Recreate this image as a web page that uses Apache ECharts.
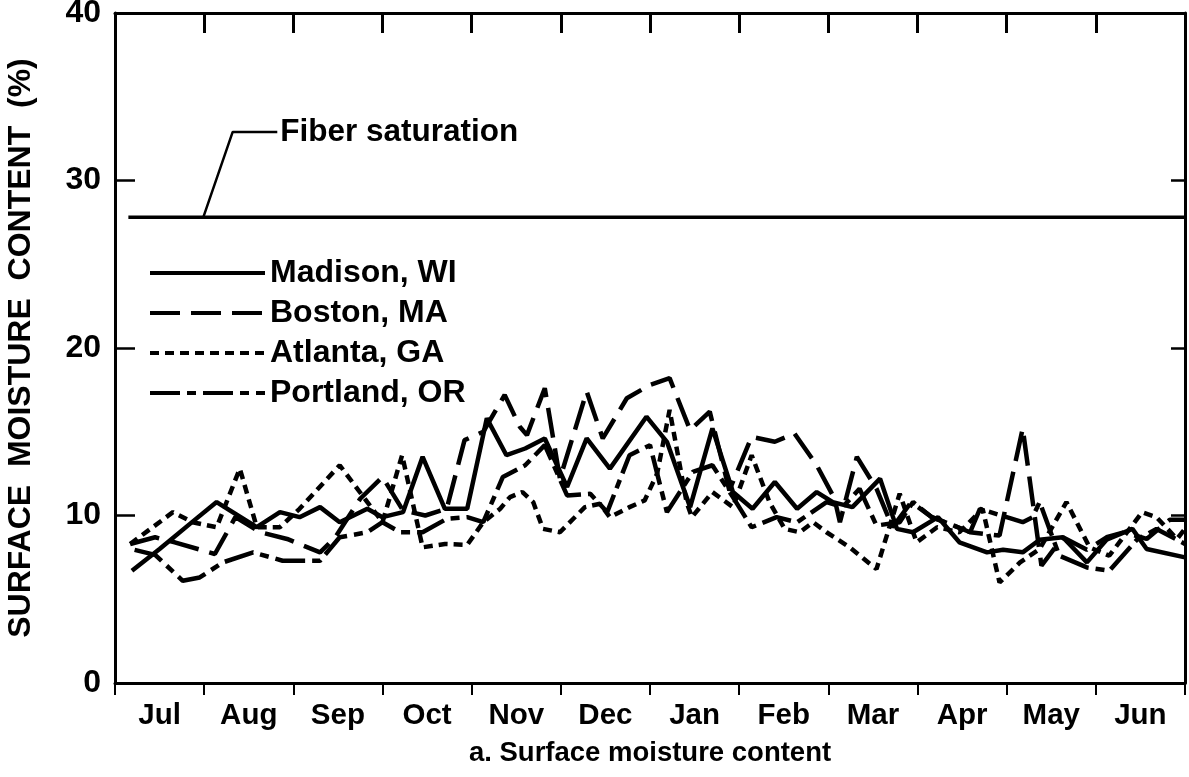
<!DOCTYPE html>
<html>
<head>
<meta charset="utf-8">
<script src="https://cdn.jsdelivr.net/npm/echarts@6/dist/echarts.min.js"></script>
<style>
html,body{margin:0;padding:0;background:#fff;}
#chart{width:1189px;height:777px;}
</style>
</head>
<body>
<div id="chart"></div>
<script>
// ---- data (x = position in months from start of July, y = moisture %) ----
var months = ['Jul','Aug','Sep','Oct','Nov','Dec','Jan','Feb','Mar','Apr','May','Jun'];
var yTicks = [0, 10, 20, 30, 40];

var madison = [
  [0.19,6.7],[0.50,8.0],[0.84,9.5],[1.14,10.8],[1.59,9.3],[1.85,10.2],[2.07,9.9],[2.30,10.5],
  [2.52,9.6],[2.83,10.4],[3.00,9.9],[3.23,10.2],[3.45,13.5],[3.70,10.4],[3.95,10.4],[4.17,15.8],
  [4.39,13.6],[4.60,14.0],[4.82,14.6],[5.07,11.7],[5.29,14.6],[5.55,12.8],[5.96,15.9],[6.19,14.4],
  [6.45,10.5],[6.70,15.2],[6.93,11.4],[7.15,10.4],[7.40,12.0],[7.65,10.4],[7.87,11.4],[8.05,10.8],
  [8.27,10.5],[8.58,12.2],[8.77,9.2],[8.95,9.0],[9.23,9.9],[9.47,8.4],[9.78,7.8],[9.96,7.95],
  [10.18,7.8],[10.37,8.55],[10.63,8.7],[10.90,7.2],[11.12,8.55],[11.41,9.2],[11.57,8.0],[12.0,7.5]
];
var boston = [
  [0.17,8.3],[0.45,8.7],[0.67,8.4],[1.12,7.7],[1.35,9.9],[1.63,9.0],[1.93,8.6],[2.30,7.8],
  [2.47,8.7],[2.75,11.0],[3.00,12.3],[3.23,10.3],[3.48,10.0],[3.72,10.4],[3.92,14.5],[4.13,15.0],
  [4.37,17.2],[4.54,15.3],[4.62,14.8],[4.82,17.6],[4.99,12.2],[5.29,17.4],[5.47,14.6],[5.74,17.0],
  [6.00,17.8],[6.22,18.2],[6.45,15.1],[6.67,16.2],[6.89,11.5],[7.14,14.7],[7.40,14.4],[7.62,14.9],
  [7.87,13.0],[8.07,11.0],[8.13,9.6],[8.32,13.5],[8.54,11.6],[8.72,9.3],[8.93,10.8],[9.16,9.9],
  [9.36,9.5],[9.59,9.0],[9.92,8.8],[10.18,15.2],[10.39,7.0],[10.63,8.7],[10.90,7.95],[11.12,8.7],
  [11.32,9.0],[11.57,8.6],[11.83,9.75],[12.0,9.75]
];
var atlanta = [
  [0.17,8.3],[0.65,10.2],[0.87,9.6],[1.14,9.3],[1.40,12.8],[1.59,9.3],[1.85,9.3],[2.07,10.4],
  [2.52,13.0],[2.83,10.8],[3.00,9.6],[3.22,13.6],[3.45,8.1],[3.70,8.3],[3.95,8.25],[4.13,9.6],
  [4.32,10.4],[4.43,11.1],[4.57,11.4],[4.69,10.8],[4.80,9.2],[4.99,9.0],[5.27,10.5],[5.44,10.7],
  [5.55,9.9],[5.77,10.5],[5.94,10.9],[6.08,12.5],[6.22,16.3],[6.41,10.8],[6.47,9.9],[6.70,11.4],
  [6.93,10.5],[7.14,13.6],[7.34,10.8],[7.51,9.2],[7.68,9.0],[7.83,9.6],[7.98,9.0],[8.24,8.1],
  [8.54,6.8],[8.80,11.3],[8.99,8.4],[9.22,9.3],[9.47,9.0],[9.73,10.4],[9.92,6.0],[10.15,7.2],
  [10.37,8.0],[10.67,10.8],[10.93,8.1],[11.15,7.6],[11.52,10.2],[11.68,9.9],[11.91,8.6],[12.0,9.2]
];
var portland = [
  [0.22,7.95],[0.45,7.65],[0.76,6.1],[0.95,6.3],[1.21,7.2],[1.55,7.8],[1.88,7.3],[2.30,7.3],
  [2.52,8.7],[2.83,9.0],[3.00,9.6],[3.20,9.0],[3.45,9.0],[3.72,9.8],[3.95,9.9],[4.13,9.6],
  [4.35,12.3],[4.60,13.0],[4.82,14.2],[5.07,11.2],[5.33,11.3],[5.52,10.2],[5.77,13.6],[6.00,14.2],
  [6.19,10.2],[6.48,12.6],[6.70,13.0],[6.93,11.1],[7.14,9.3],[7.42,9.9],[7.65,9.6],[7.98,10.8],
  [8.16,10.5],[8.35,11.6],[8.54,9.4],[8.80,9.6],[8.95,10.8],[9.16,9.9],[9.36,9.5],[9.59,9.0],
  [9.70,10.4],[10.00,9.9],[10.18,9.6],[10.29,9.9],[10.37,10.8],[10.59,7.6],[10.90,6.9],[11.15,6.7],
  [11.46,8.55],[11.68,9.2],[12.0,8.3]
];
var fiberSaturation = 27.8;
var fiberLine = [[0.15, fiberSaturation], [12, fiberSaturation]];
var fiberLeader = [[0.99, fiberSaturation], [1.32, 32.9], [1.82, 32.9]];

// ---- chart ----
var FONT = '"Liberation Sans", Arial, sans-serif';
var chart = echarts.init(document.getElementById('chart'));

function cityLine(name, data, type) {
  return {
    name: name, type: 'line', data: data, xAxisIndex: 2,
    symbol: 'none', showSymbol: false, smooth: false, animation: false,
    lineStyle: { color: '#000', width: 4.5, type: type },
    itemStyle: { color: '#000' }
  };
}

var option = {
  backgroundColor: '#fff',
  animation: false,
  grid: { left: 115, right: 4, top: 13, bottom: 94, show: false, containLabel: false, outerBoundsMode: 'none' },
  legend: {
    orient: 'vertical', left: 143, top: 252,
    itemWidth: 115, itemHeight: 16, itemGap: 8,
    itemStyle: { opacity: 0 },
    lineStyle: { width: 4 },
    data: ['Madison, WI', 'Boston, MA', 'Atlanta, GA', 'Portland, OR'],
    textStyle: { color: '#000', fontSize: 32, fontWeight: 'bold', fontFamily: FONT },
    selectedMode: false
  },
  xAxis: [
    {
      type: 'category', data: months, position: 'bottom', boundaryGap: true,
      axisLine: { show: true, onZero: false, lineStyle: { color: '#000', width: 3 } },
      axisTick: { show: true, inside: false, length: 12, interval: 0, lineStyle: { color: '#000', width: 2 } },
      axisLabel: { color: '#000', fontSize: 29.5, fontWeight: 'bold', fontFamily: FONT, margin: 18, interval: 0 },
      name: 'a. Surface moisture content', nameLocation: 'middle', nameGap: 56,
      nameTextStyle: { color: '#000', fontSize: 27.5, fontWeight: 'bold', fontFamily: FONT }
    },
    {
      type: 'category', data: months, position: 'top', boundaryGap: true,
      axisLine: { show: true, onZero: false, lineStyle: { color: '#000', width: 3 } },
      axisTick: { show: true, inside: true, length: 20, interval: 0, lineStyle: { color: '#000', width: 3 } },
      axisLabel: { show: false },
      splitLine: { show: false }
    },
    {
      type: 'value', min: 0, max: 12, show: false
    }
  ],
  yAxis: [
    {
      type: 'value', min: yTicks[0], max: yTicks[yTicks.length - 1], interval: 10, position: 'left',
      axisLine: { show: true, onZero: false, lineStyle: { color: '#000', width: 3 } },
      axisTick: { show: true, inside: true, length: 20, lineStyle: { color: '#000', width: 2.5 } },
      axisLabel: { color: '#000', fontSize: 32, fontWeight: 'bold', fontFamily: FONT, margin: 14 },
      splitLine: { show: false },
      name: 'SURFACE  MOISTURE  CONTENT  (%)', nameLocation: 'middle', nameGap: 78, nameRotate: 90,
      nameTextStyle: { color: '#000', fontSize: 32, fontWeight: 'bold', fontFamily: FONT }
    },
    {
      type: 'value', min: yTicks[0], max: yTicks[yTicks.length - 1], interval: 10, position: 'right',
      axisLine: { show: true, onZero: false, lineStyle: { color: '#000', width: 3 } },
      axisTick: { show: true, inside: true, length: 14, lineStyle: { color: '#000', width: 2.5 } },
      axisLabel: { show: false },
      splitLine: { show: false }
    }
  ],
  series: [
    cityLine('Madison, WI', madison, 'solid'),
    cityLine('Boston, MA', boston, [30, 11]),
    cityLine('Atlanta, GA', atlanta, [9, 6]),
    cityLine('Portland, OR', portland, [30, 7, 9, 7]),
    {
      name: 'fiber', type: 'line', xAxisIndex: 2, data: fiberLine, symbol: 'none',
      lineStyle: { color: '#000', width: 3.5 }, silent: true
    },
    {
      name: 'fiberLeader', type: 'line', xAxisIndex: 2, data: fiberLeader, symbol: 'none',
      lineStyle: { color: '#000', width: 2.5 }, silent: true,
      endLabel: {
        show: true, formatter: 'Fiber saturation', distance: 3,
        color: '#000', fontSize: 31.5, fontWeight: 'bold', fontFamily: FONT
      }
    }
  ]
};
chart.setOption(option);
</script>
</body>
</html>
